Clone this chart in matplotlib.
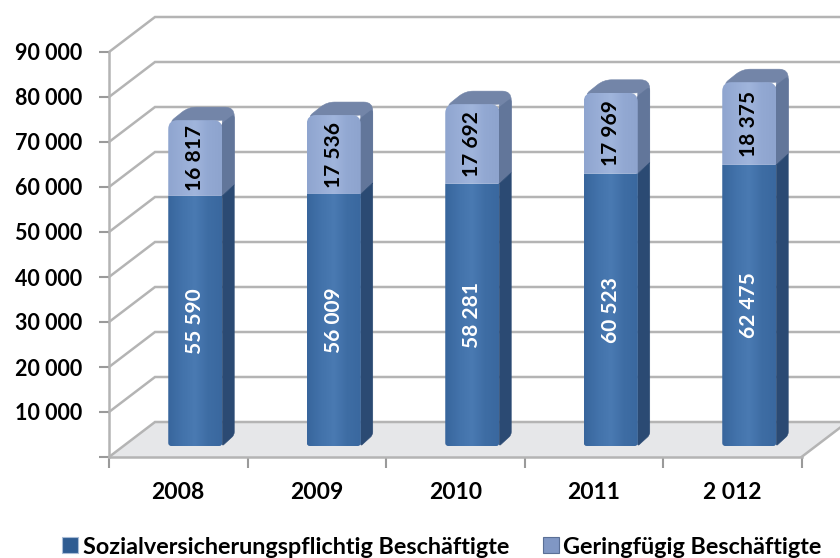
import matplotlib
matplotlib.use("Agg")
import matplotlib.pyplot as plt
import numpy as np
from matplotlib.colors import LinearSegmentedColormap
from matplotlib.patches import PathPatch, Patch, Polygon
from matplotlib.path import Path

plt.rcParams['font.family'] = ['Lato', 'DejaVu Sans']

years = ['2008', '2009', '2010', '2011', '2 012']
sozial = [55590, 56009, 58281, 60523, 62475]
geringfuegig = [16817, 17536, 17692, 17969, 18375]
y_ticks = [10000, 20000, 30000, 40000, 50000, 60000, 70000, 80000, 90000]
legend_labels = ['Sozialversicherungspflichtig Beschäftigte', 'Geringfügig Beschäftigte']

W, H = 840, 558
# front plane of the fake 3d box, in pixels
left, right, bottom, top = 109, 801.5, 457, 52
wall_dx, wall_dy = 46, 35
grid_color = '#b4b4b4'

fig = plt.figure(figsize=(W / 100, H / 100), dpi=100)
ax = fig.add_axes([left / W, 1 - bottom / H, (right - left) / W, (bottom - top) / H])
ax.set_xlim(-0.5, 4.5)
ax.set_ylim(0, 90000)

px_x = 5 / (right - left)
px_y = 90000 / (bottom - top)


def shade(colors, extent, clip, z):
    cmap = LinearSegmentedColormap.from_list('c', colors)
    im = ax.imshow(np.linspace(0, 1, 128).reshape(1, -1), cmap=cmap, extent=extent,
                   aspect='auto', zorder=z, clip_on=True)
    im.set_clip_path(clip)


def round_path(pts, radii):
    # closed polygon in data coords, each corner rounded by a radius in pixels
    pix = [np.array([p[0] / px_x, p[1] / px_y]) for p in pts]
    n = len(pix)
    verts, codes = [], []
    for i in range(n):
        p, prev, nxt = pix[i], pix[i - 1], pix[(i + 1) % n]
        r = radii[i]
        a = p + (prev - p) / max(np.linalg.norm(prev - p), 1e-6) * r
        b = p + (nxt - p) / max(np.linalg.norm(nxt - p), 1e-6) * r
        verts += [a, p, b]
        codes += [Path.LINETO, Path.CURVE3, Path.CURVE3]
    codes[0] = Path.MOVETO
    verts.append(verts[0])
    codes.append(Path.CLOSEPOLY)
    return Path([(v[0] * px_x, v[1] * px_y) for v in verts], codes)


def solid(pts, radii, color, z):
    ax.add_patch(PathPatch(round_path(pts, radii), fc=color, ec=color, lw=0.4, zorder=z, clip_on=False))


def front(x0, x1, y0, y1, radii, colors, z):
    pts = [(x0, y0), (x1, y0), (x1, y1), (x0, y1)]
    p = PathPatch(round_path(pts, radii), fc='none', ec='none', zorder=z, clip_on=False)
    ax.add_patch(p)
    shade(colors, (x0, x1, y0, y1), p, z)


# floor
ddx, ddy = wall_dx * px_x, wall_dy * px_y
ax.add_patch(Polygon([(-0.5, 0), (4.5, 0), (4.5 + ddx, ddy), (-0.5 + ddx, ddy)], closed=True,
                     fc='#e6e7e9', ec='none', zorder=0.5, clip_on=False))

# gridlines on side and back wall
for v in [0] + y_ticks:
    ax.plot([-0.5, -0.5 + ddx, 4.5 + ddx], [v, v + ddy, v + ddy], color=grid_color, lw=1.8,
            clip_on=False, zorder=1, solid_joinstyle='miter')
ax.plot([4.5, 4.5 + ddx], [0, ddy], color=grid_color, lw=1.8, clip_on=False, zorder=1)

# bars
x_shift = 17 * px_x
bar_w = 54 * px_x
depth_x, depth_y = 12 * px_x, 11 * px_y
base = 11 * px_y
blue = ['#38659c', '#4272aa', '#4a7ab2', '#3e6da4', '#3a689f']
light = ['#8fa5cf', '#98add6', '#a0b5dc', '#92a8d2', '#8ea4ce']
for i in range(len(years)):
    x0 = i - bar_w / 2 + x_shift
    x1 = x0 + bar_w
    y1 = base + sozial[i]
    y2 = y1 + geringfuegig[i]
    z = 3 + i
    # top and light side as one rounded silhouette
    solid([(x0, y2 - 3 * px_y), (x0 + 20 * px_x, y2 + 13 * px_y), (x1 + depth_x, y2 + 13 * px_y),
           (x1 + depth_x, y1 + depth_y), (x1, y1), (x1, y2)], [8, 8, 9, 0, 0, 0], '#7385a8', z)
    solid([(x1 - 1 * px_x, y2 - 4 * px_y), (x1 + depth_x, y2 + 6 * px_y), (x1 + depth_x, y1 + depth_y), (x1 - 1 * px_x, y1)],
          [3, 4, 0, 0], '#62769a', z + 0.05)
    # dark side
    solid([(x1, base), (x1 + depth_x, base + depth_y), (x1 + depth_x, y1 + depth_y), (x1, y1)],
          [2, 3, 0, 0], '#2b4a73', z + 0.1)
    # front
    front(x0, x1, base, y1, [3, 3, 0, 0], blue, z + 0.2)
    front(x0, x1, y1, y2, [0, 0, 9, 9], light, z + 0.2)
    xc = (x0 + x1) / 2
    ax.text(xc, base + sozial[i] / 2, f'{sozial[i]:,}'.replace(',', ' '), rotation=90, color='white',
            ha='center', va='center', fontsize=15, fontweight='bold', zorder=z + 0.5)
    ax.text(xc, y1 + geringfuegig[i] / 2, f'{geringfuegig[i]:,}'.replace(',', ' '), rotation=90, color='black',
            ha='center', va='center', fontsize=15, fontweight='bold', zorder=z + 0.5)

ax.set_xlim(-0.5, 4.5)
ax.set_ylim(0, 90000)
ax.patch.set_visible(False)

# axes
for s in ['top', 'right']:
    ax.spines[s].set_visible(False)
for s in ['left', 'bottom']:
    ax.spines[s].set_color(grid_color)
    ax.spines[s].set_linewidth(1.8)
    ax.spines[s].set_zorder(2)
ax.set_yticks([0] + y_ticks)
ax.set_yticklabels([''] + [f'{v:,}'.replace(',', ' ') for v in y_ticks], fontsize=15.5, fontweight='bold')
ax.tick_params(axis='y', length=7, width=1.5, color='#9a9a9a', pad=12.5)
ax.set_xticks(np.arange(-0.5, 5, 1))
ax.set_xticklabels([''] * 6)
ax.tick_params(axis='x', which='major', length=8, width=1.5, color='#9a9a9a')
ax.set_xticks(range(len(years)), minor=True)
ax.set_xticklabels(years, minor=True, fontsize=16.5, fontweight='bold')
ax.tick_params(axis='x', which='minor', length=0, pad=18)

handles = [Patch(fc='#2f5c92', ec='#a9bcd6', lw=0.8), Patch(fc='#8097c4', ec='#5a6f96', lw=0.8)]
fig.legend(handles, legend_labels, loc='lower left', bbox_to_anchor=(41 / W, -0.037), ncol=2, frameon=False,
           prop={'weight': 'bold', 'size': 16.8}, handlelength=0.68, handleheight=0.68, handletextpad=0.2,
           columnspacing=1.45)

fig.savefig('out.png', dpi=100)
